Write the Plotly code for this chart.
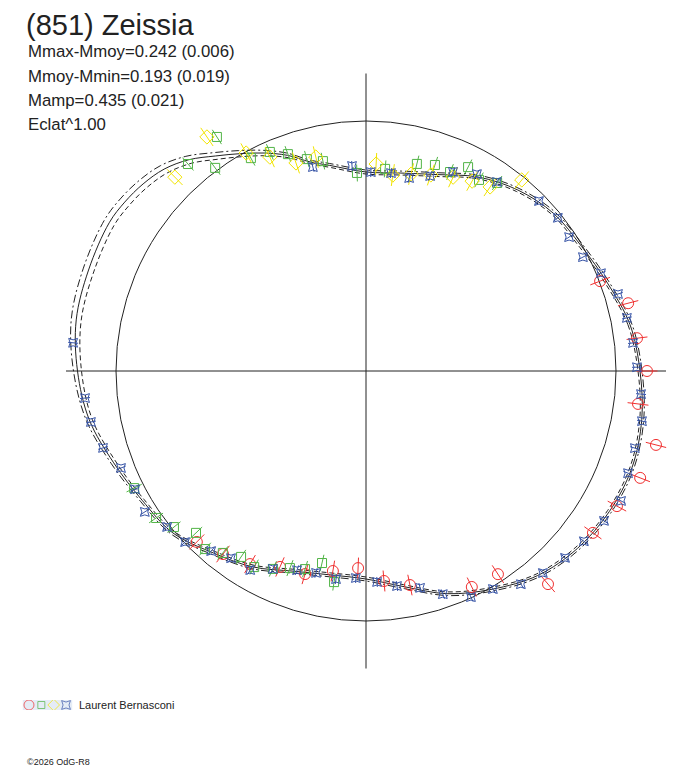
import plotly.graph_objects as go

# the page body adds an 8 px margin, so the figure is drawn 8 px smaller
W, H = 680, 760
OFF = 8

# model curves: phase angle (deg) and relative brightness (1.0 = mean circle)
curve_theta = [0, 10, 20, 30, 40, 50, 60, 70, 80, 90, 100, 105, 110, 115, 120, 125,
               130, 135, 140, 145, 150, 160, 170, 180, 190, 200, 210, 220, 230,
               240, 250, 260, 270, 280, 290, 300, 310, 320, 330, 340, 350]
curve_mid = [1.096, 1.072, 1.028, 0.996, 0.980, 0.945, 0.896, 0.836, 0.804, 0.796, 0.835,
             0.866, 0.918, 0.962, 1.004, 1.050, 1.103, 1.142, 1.164, 1.178, 1.186,
             1.181, 1.177, 1.154, 1.124, 1.074, 1.034, 1.008, 0.950, 0.905, 0.852,
             0.828, 0.832, 0.876, 0.948, 1.008, 1.068, 1.104, 1.124, 1.132, 1.120]
curve_low = [1.088, 1.064, 1.020, 0.988, 0.972, 0.937, 0.888, 0.828, 0.796, 0.788, 0.827,
             0.858, 0.908, 0.950, 0.990, 1.034, 1.085, 1.122, 1.143, 1.156, 1.164,
             1.159, 1.157, 1.138, 1.112, 1.064, 1.026, 1.000, 0.942, 0.897, 0.844,
             0.820, 0.824, 0.868, 0.940, 1.000, 1.060, 1.096, 1.116, 1.124, 1.112]
curve_high = [1.104, 1.080, 1.036, 1.004, 0.988, 0.953, 0.904, 0.844, 0.812, 0.804, 0.843,
              0.874, 0.928, 0.974, 1.018, 1.066, 1.121, 1.162, 1.185, 1.200, 1.208,
              1.203, 1.197, 1.170, 1.136, 1.084, 1.042, 1.016, 0.958, 0.913, 0.860,
              0.836, 0.840, 0.884, 0.956, 1.016, 1.076, 1.112, 1.132, 1.140, 1.128]

# observations, one list pair per session
red_theta = [21.0, 14.5, 6.9, 0.0, 353.1, 345.7, 338.7, 331.7, 324.5, 310.5, 303.0,
             296.1, 281.6, 274.9, 267.7, 260.6, 253.3, 246.3, 239.0, 232.0, 225.3]
red_r = [1.003, 1.083, 1.092, 1.124, 1.096, 1.197, 1.177, 1.140, 1.115, 1.121, 0.969,
         0.962, 0.874, 0.843, 0.789, 0.811, 0.848, 0.856, 0.901, 0.929, 0.962]

green_theta = [122.5, 130.7, 126.6, 118.4, 113.7, 109.8, 105.6, 101.6, 92.6, 84.6,
               76.2, 71.5, 67.1, 63.4, 59.4, 55.1,
               206.8, 215.0, 219.1, 223.6, 227.9, 231.8, 236.1, 240.3, 244.8,
               248.9, 252.9, 257.1, 261.4]
green_r = [1.110, 1.092, 1.012, 0.968, 0.957, 0.922, 0.880, 0.857, 0.793, 0.812,
           0.853, 0.869, 0.864, 0.912, 0.888, 0.917,
           1.039, 1.025, 0.990, 0.939, 0.960, 0.926, 0.896, 0.903, 0.875,
           0.845, 0.829, 0.788, 0.854]

yellow_theta = [124.2, 134.6, 118.8, 114.2, 108.6, 103.2, 87.2, 82.2, 77.1, 71.7,
                65.8, 60.8, 56.0, 50.8]
yellow_r = [1.132, 1.089, 0.995, 0.938, 0.878, 0.879, 0.829, 0.791, 0.808, 0.826,
            0.850, 0.870, 0.888, 0.986]

blue_theta = [88.6, 82.8, 77.4, 71.8, 66.4, 60.6, 55.3, 44.5, 38.6, 33.4, 27.7, 22.6,
              17.0, 11.5, 6.0, 0.8, 355.2, 349.7, 344.0, 338.7, 333.0, 327.8, 322.0,
              316.8, 311.2, 306.0, 300.2, 294.9, 289.0, 284.0, 278.2, 273.0, 267.2,
              261.8, 256.1, 250.9, 244.8, 239.8, 234.2, 229.3, 223.4, 218.1, 212.5,
              207.1, 201.6, 196.3, 190.5, 185.5, 174.5, 104.6, 93.9]
blue_r = [0.796, 0.798, 0.791, 0.821, 0.869, 0.904, 0.920, 0.970, 0.982, 0.973, 0.980, 1.018,
          1.054, 1.065, 1.074, 1.084, 1.104, 1.122, 1.119, 1.125, 1.145, 1.125, 1.106,
          1.092, 1.074, 1.054, 1.009, 0.997, 0.944, 0.894, 0.869, 0.845, 0.829,
          0.841, 0.832, 0.843, 0.875, 0.921, 0.923, 0.950, 0.996, 1.011, 1.049,
          1.038, 1.054, 1.096, 1.119, 1.129, 1.177, 0.843, 0.822]

# half length of the radial error bars per session
red_err = 0.042
green_err = 0.034
yellow_err = 0.044
blue_err = 0.02

title = "(851) Zeissia"
info_lines = ["Mmax-Mmoy=0.242 (0.006)", "Mmoy-Mmin=0.193 (0.019)",
              "Mamp=0.435 (0.021)", "Eclat^1.00"]
observer = "Laurent Bernasconi"
credit = "\u00a92026 OdG-R8"

INK = "#222222"
sessions = [
    (red_theta, red_r, red_err, "#f03030", "circle-open", 11),
    (green_theta, green_r, green_err, "#52b447", "square-open", 9),
    (yellow_theta, yellow_r, yellow_err, "#f2e400", "diamond-open", 11),
    (blue_theta, blue_r, blue_err, "#3653a6", "star-square-open", 8),
]

fig = go.Figure()

# axes cross
fig.add_trace(go.Scatterpolar(r=[1.2, 0, 1.2], theta=[180, 0, 0], mode="lines",
                              line=dict(color=INK, width=1), hoverinfo="skip"))
fig.add_trace(go.Scatterpolar(r=[1.19, 0, 1.19], theta=[90, 0, 270], mode="lines",
                              line=dict(color=INK, width=1), hoverinfo="skip"))

for rr, dash in [(curve_mid, "solid"), (curve_low, "5px,3px"),
                 (curve_high, "8px,3px,2px,3px")]:
    fig.add_trace(go.Scatterpolar(
        r=rr + rr[:1], theta=curve_theta + curve_theta[:1], mode="lines",
        line=dict(color=INK, width=1, dash=dash, shape="spline"), hoverinfo="skip"))

for th, rr, err, col, sym, size in sessions:
    seg_r, seg_t = [], []
    for t, r in zip(th, rr):
        seg_r += [r - err, r + err, None]
        seg_t += [t, t, None]
    fig.add_trace(go.Scatterpolar(r=seg_r, theta=seg_t, mode="lines",
                                  line=dict(color=col, width=1), hoverinfo="skip"))
    fig.add_trace(go.Scatterpolar(r=rr, theta=th, mode="markers",
                                  marker=dict(symbol=sym, size=size, color=col,
                                              line=dict(color=col, width=1))))

# legend glyphs
fig.add_trace(go.Scatter(x=[0, 1, 2, 3], y=[0, 0, 0, 0], mode="markers",
                         xaxis="x", yaxis="y", hoverinfo="skip",
                         marker=dict(symbol=[s[4] for s in sessions],
                                     size=[10, 7, 9, 8],
                                     color=[s[3] for s in sessions],
                                     line=dict(color=[s[3] for s in sessions], width=1))))

cx, cy, R = 366 - OFF, 371 - OFF, 312.5
fig.update_layout(
    width=W, height=H,
    margin=dict(l=0, r=0, t=0, b=0),
    paper_bgcolor="white",
    showlegend=False,
    polar=dict(
        domain=dict(x=[(cx - R) / W, (cx + R) / W],
                    y=[(H - cy - R) / H, (H - cy + R) / H]),
        bgcolor="white",
        radialaxis=dict(range=[0, 1.25], tickvals=[1.0], showgrid=True,
                        gridcolor=INK, gridwidth=1, showline=False,
                        showticklabels=False, ticks=""),
        angularaxis=dict(rotation=0, direction="counterclockwise",
                         showgrid=False, showline=False,
                         showticklabels=False, ticks=""),
    ),
    xaxis=dict(domain=[(22.8 - OFF) / W, (72.2 - OFF) / W], range=[-0.5, 3.5],
               visible=False, fixedrange=True),
    yaxis=dict(domain=[(H - 697 - 5) / H, (H - 697 + 5) / H], range=[-1, 1],
               visible=False, fixedrange=True),
    font=dict(family="Liberation Sans, Arial, sans-serif", color=INK),
)

# title sits against the top edge
fig.add_annotation(text=title, x=(25 - OFF) / W, y=1, xref="paper", yref="paper",
                   xanchor="left", yanchor="top", showarrow=False, borderpad=0,
                   font=dict(size=29, color=INK))

ann = []
for i, line in enumerate(info_lines):
    ann.append(dict(text=line, x=26, y=51.5 + 24.5 * i, size=16.8))
ann.append(dict(text=observer, x=77, y=705, size=11))
ann.append(dict(text=credit, x=25, y=762, size=9))
for a in ann:
    fig.add_annotation(text=a["text"], x=(a["x"] - OFF) / W, y=1 - (a["y"] - OFF) / H,
                       xref="paper", yref="paper",
                       xanchor="left", yanchor="middle", showarrow=False,
                       font=dict(size=a["size"], color=INK))

fig.write_html("out.html")
